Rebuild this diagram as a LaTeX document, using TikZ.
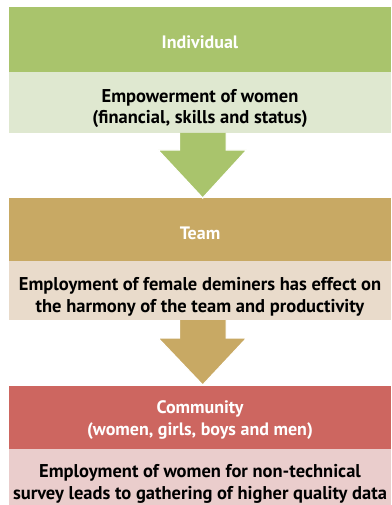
\documentclass[tikz,border=0pt]{standalone}
\usepackage{fontspec}
\setmainfont{PT Sans}
\usetikzlibrary{calc}

\definecolor{indivdark}{HTML}{A9C46C}
\definecolor{indivlight}{HTML}{DFE8D0}
\definecolor{teamdark}{HTML}{C8A964}
\definecolor{teamlight}{HTML}{E9DBCB}
\definecolor{commdark}{HTML}{CD6660}
\definecolor{commlight}{HTML}{EACDCC}

\tikzset{
	level/.style={rectangle, minimum width=382pt, minimum height=#1, inner sep=0pt, outer sep=0pt,
		align=center, text depth=0pt},
	head/.style={level=#1, text=white, text height=18pt, font=\bfseries\fontsize{18}{21.5}\selectfont},
	body/.style={level=#1, text=black, text height=43pt, font=\bfseries\fontsize{18.5}{21.5}\selectfont},
	flow/.style={draw=white, line width=1.2pt, line join=miter},
}

\begin{document}
\begin{tikzpicture}[x=1pt, y=-1pt]
\useasboundingbox (0,0) rectangle (391,505);

	% levels
\path
	(200,39.5) node[head=65pt, fill=indivdark] (indiv) {Individual}
	(200,102.5) node[body=61pt, fill=indivlight] (indivtxt) {Empowerment of women\\(financial, skills and status)}
	(200,229.5) node[head=63pt, fill=teamdark, text height=19pt] (team) {Team}
	(200,290.5) node[body=59pt, fill=teamlight] (teamtxt) {Employment of female deminers has effect on\\the harmony of the team and productivity}
	(200,417.5) node[head=63pt, fill=commdark, text height=35pt] (comm) {Community\\(women, girls, boys and men)}
	(200,477) node[body=56pt, fill=commlight, text height=44pt] (commtxt) {Employment of women for non-technical\\survey leads to gathering of higher quality data}
	;

	% arrows between levels
\filldraw[flow, fill=indivdark]
	($(indivtxt.south)+(-20.6,0)$) -- ++(0,17) -- ++(-21.4,0)
	-- ($(team.north)+(2.7,0)$)
	-- ($(indivtxt.south)+(46.7,17)$) -- ++(-20.6,0) -- ++(0,-17);
\filldraw[flow, fill=teamdark]
	($(teamtxt.south)+(-20.6,0)$) -- ++(0,18) -- ++(-21.4,0)
	-- ($(comm.north)+(2.7,-1)$)
	-- ($(teamtxt.south)+(46.7,18)$) -- ++(-20.6,0) -- ++(0,-18);
\end{tikzpicture}
\end{document}
